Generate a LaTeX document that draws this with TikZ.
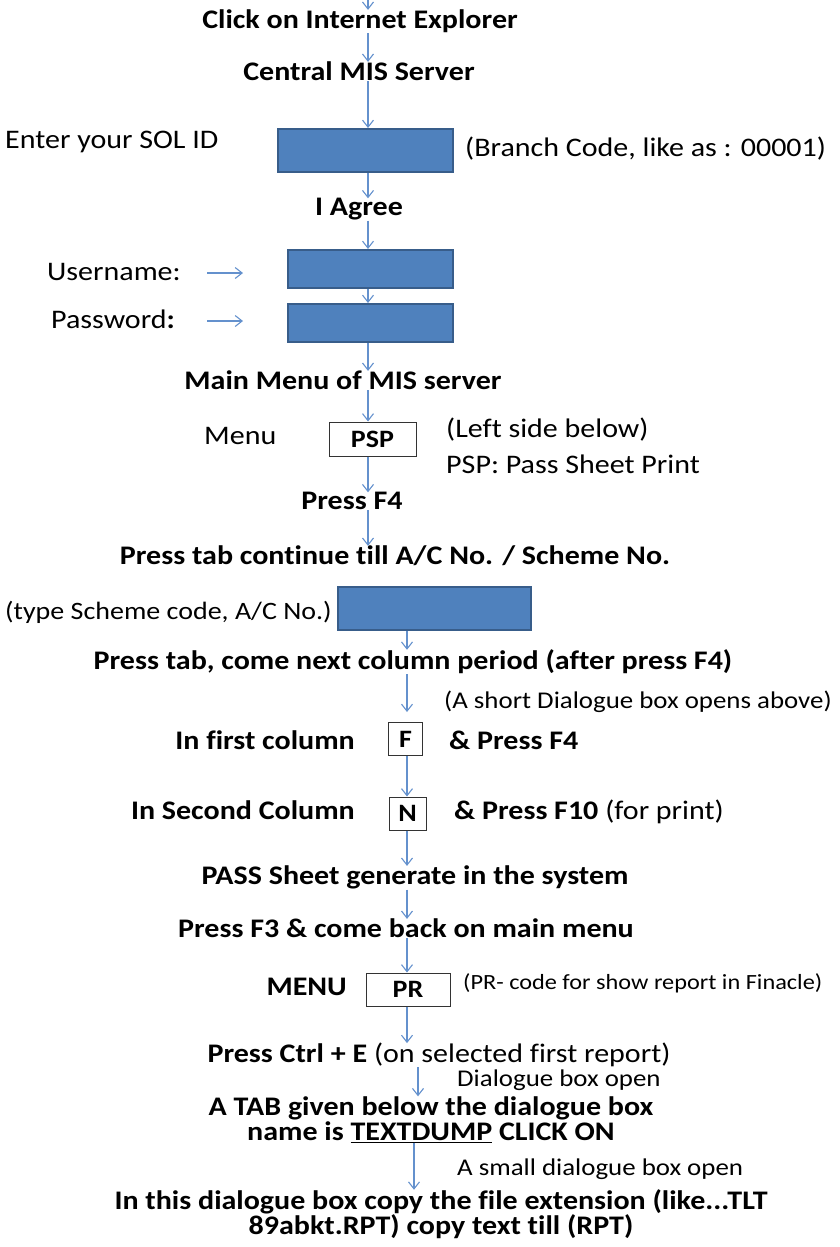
\documentclass[tikz,border=0pt]{standalone}
\usepackage{fontspec}
\setmainfont{Carlito}[FakeStretch=1.12,Ligatures=NoCommon]
\usetikzlibrary{arrows.meta}
\definecolor{boxfill}{RGB}{79,129,189}
\definecolor{boxline}{RGB}{56,93,138}
\definecolor{flowcol}{RGB}{100,145,205}
\begin{document}
\begin{tikzpicture}[x=1pt,y=-1pt,
		txt/.style={inner sep=0pt,yshift=-6.5pt,font=\fontsize{26.8}{25}\selectfont},
		btxt/.style={txt,font=\fontsize{26.8}{25}\selectfont\bfseries},
		note/.style={inner sep=0pt,yshift=-6pt,font=\fontsize{24}{24}\selectfont},
		tinynote/.style={inner sep=0pt,yshift=-5.5pt,font=\fontsize{21.7}{22}\selectfont},
		inbox/.style={draw=boxline,fill=boxfill,line width=2pt},
		keybox/.style={draw=black!80,fill=white,line width=1pt,inner sep=0pt,
			font=\fontsize{25}{25}\selectfont\bfseries},
		flow/.style={draw=flowcol,line width=1.1pt,-{Straight Barb[length=7pt,width=11pt]}}]
		\useasboundingbox (0,0) rectangle (840,1247);
%  		\draw[gray!40,step=50] (0,0) grid (840,1247);
		\coordinate (ax) at (368,0);
		\coordinate (bx) at (407,0);
		\coordinate (cx) at (418,0);
		\coordinate (dx) at (414,0);

		\node[btxt,anchor=mid] (click) at (360,20) {Click on Internet Explorer};
		\node[btxt,anchor=mid] (central) at (359,72) {Central MIS Server};

		\node[inbox,minimum width=175,minimum height=43] (sol) at (365.5,150.5) {};
		\node[txt,anchor=mid west] (sollab) at (5,140) {Enter your SOL ID};
		\node[txt,anchor=mid west] (branch) at (465,148) {(Branch Code, like as : 00001)};
		\node[btxt,anchor=mid] (agree) at (359,207) {I Agree};

		\node[inbox,minimum width=165,minimum height=38] (user) at (370.5,269) {};
		\node[inbox,minimum width=165,minimum height=38] (pass) at (370.5,323) {};
		\node[txt,anchor=mid west] (userlab) at (47,272) {Username:};
		\node[txt,anchor=mid west] (passlab) at (51,320) {Password\textbf{:}};
		\coordinate (u1) at (207,273);
		\coordinate (u2) at (243,273);
		\coordinate (p1) at (207,321);
		\coordinate (p2) at (243,321);

		\node[btxt,anchor=mid] (mainmenu) at (343,381) {Main Menu of MIS server};
		\node[keybox,minimum width=87,minimum height=34] (psp) at (372.5,439) {PSP};
		\node[txt,anchor=mid west] (menu) at (204,436) {Menu};
		\node[txt,anchor=mid west] (left) at (446,429) {(Left side below)};
		\node[txt,anchor=mid west] (pspnote) at (446,465) {PSP: Pass Sheet Print};
		\node[btxt,anchor=mid] (f4) at (352,501) {Press F4};
		\node[btxt,anchor=mid] (tabtill) at (395,556) {Press tab continue till A/C No. / Scheme No.};

		\node[inbox,minimum width=193,minimum height=43] (scheme) at (434.5,608.5) {};
		\node[txt,anchor=mid west,font=\fontsize{25}{25}\selectfont] (schemelab) at (5,611)
			{(type Scheme code,\ A/C No.)};
		\node[btxt,anchor=mid] (period) at (413,661) {Press tab, come next column period (after press F4)};
		\node[note,anchor=mid west] (short) at (444,700) {(A short Dialogue box opens above)};

		\node[keybox,minimum width=34,minimum height=33] (fkey) at (405.5,739) {F};
		\node[btxt,anchor=mid east] (first) at (355,741) {In first column};
		\node[btxt,anchor=mid west] (pf4) at (449,741) {\& Press F4};
		\node[keybox,minimum width=37,minimum height=33] (nkey) at (407.5,813.5) {N};
		\node[btxt,anchor=mid east] (second) at (355,811) {In Second Column};
		\node[txt,anchor=mid west] (pf10) at (454,811) {\textbf{\& Press F10} (for print)};

		\node[btxt,anchor=mid] (generate) at (415,876) {PASS Sheet generate in the system};
		\node[btxt,anchor=mid] (back) at (406,929) {Press F3 \& come back on main menu};
		\node[keybox,minimum width=84,minimum height=33] (pr) at (408,989.5) {PR};
		\node[btxt,anchor=mid east] (menu2) at (347,987) {MENU};
		\node[tinynote,anchor=mid west] (prnote) at (463,982) {(PR- code for show report in Finacle)};

		\node[txt,anchor=mid] (ctrl) at (439,1054) {\textbf{Press Ctrl + E} (on selected first report)};
		\node[note,anchor=mid west] (dlg) at (457,1078) {Dialogue box open};
		\node[btxt,align=center,yshift=6.5pt] (tabbox) at (431,1119.5)
			{A TAB given below the dialogue box\\ name is \underline{TEXTDUMP} CLICK ON};
		\node[note,anchor=mid west] (smalldlg) at (457,1167) {A small dialogue box open};
		\node[btxt,align=center,yshift=6.5pt] (copy) at (441,1214.5)
			{In this dialogue box copy the file extension (like...TLT\\ 89abkt.RPT) copy text till (RPT)};

		\draw[flow] (ax) -- (ax |- click.north);
		\draw[flow] (ax |- click.south) -- (ax |- central.north);
		\draw[flow] (ax |- central.south) -- (ax |- sol.north);
		\draw[flow] (ax |- sol.south) -- (ax |- agree.north);
		\draw[flow] (ax |- agree.south) -- (ax |- user.north);
		\draw[flow] (ax |- user.south) -- (ax |- pass.north);
		\draw[flow] (u1) -- (u2);
		\draw[flow] (p1) -- (p2);
		\draw[flow] (ax |- pass.south) -- (ax |- mainmenu.north);
		\draw[flow] (ax |- mainmenu.south) -- (ax |- psp.north);
		\draw[flow] (ax |- psp.south) -- (ax |- f4.north);
		\draw[flow] (ax |- f4.south) -- (ax |- tabtill.north);
		\draw[flow] (bx |- scheme.south) -- (bx |- period.north);
		\draw[flow,shorten >=10pt] (bx |- period.south) -- (bx |- fkey.north);
		\draw[flow] (bx |- fkey.south) -- (bx |- nkey.north);
		\draw[flow] (bx |- nkey.south) -- (bx |- generate.north);
		\draw[flow] (bx |- generate.south) -- (bx |- back.north);
		\draw[flow] (bx |- back.south) -- (bx |- pr.north);
		\draw[flow] (bx |- pr.south) -- (bx |- ctrl.north);
		\draw[flow] (cx |- ctrl.south) -- (cx |- tabbox.north);
		\draw[flow] (dx |- tabbox.south) -- (dx |- copy.north);
	\end{tikzpicture}
\end{document}
